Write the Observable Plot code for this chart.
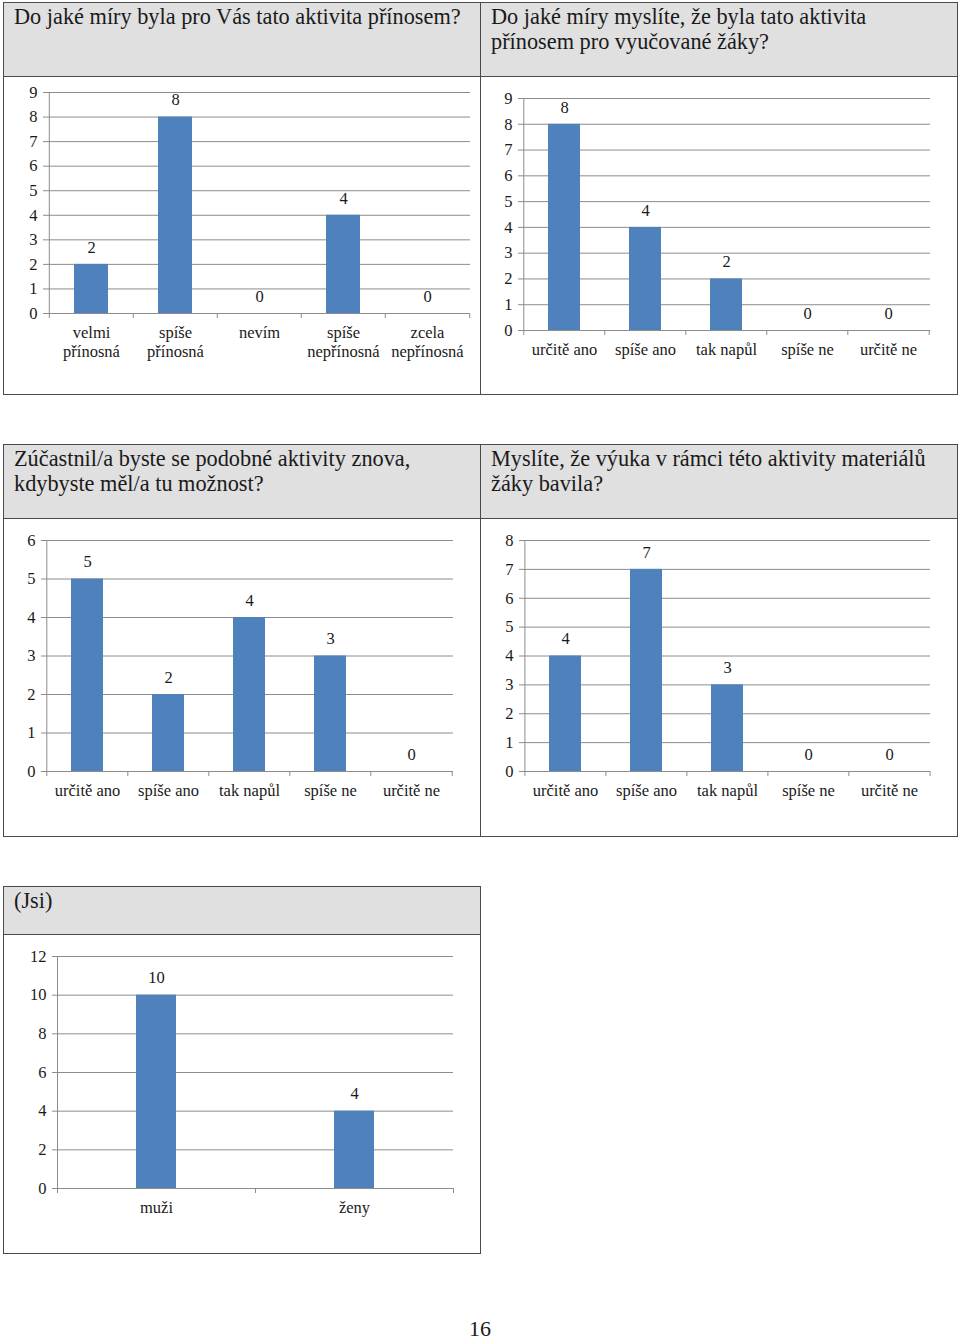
<!DOCTYPE html>
<html>
<head>
<meta charset="utf-8">
<script src="https://cdn.jsdelivr.net/npm/d3@7"></script>
<script src="https://cdn.jsdelivr.net/npm/@observablehq/plot@0.6"></script>
<style>
  html, body { margin: 0; padding: 0; background: #fff; }
  #page { position: relative; width: 960px; height: 1340px; overflow: hidden; font-family: "Liberation Serif", "DejaVu Serif", serif; color: #1a1a1a; }
  .cell { position: absolute; box-sizing: border-box; border: 1.5px solid #4a4a4a; }
  .head { background: #e0e0e0; font-size: 22.3px; line-height: 24.5px; padding: 2px 10px 0 10px; white-space: pre-line; }
  .chart { position: absolute; }
  #pagenum { position: absolute; left: 0; width: 960px; top: 1319px; height: 20px; line-height: 20px; text-align: center; font-size: 22px; }
</style>
</head>
<body>
<div id="page"></div>
<script>
// ---------- data ----------
const q1Title = "Do jaké míry byla pro Vás tato aktivita přínosem?";
const q1Categories = ["velmi\npřínosná", "spíše\npřínosná", "nevím", "spíše\nnepřínosná", "zcela\nnepřínosná"];
const q1Values = [2, 8, 0, 4, 0];
const q1Ticks = [0, 1, 2, 3, 4, 5, 6, 7, 8, 9];

const q2Title = "Do jaké míry myslíte, že byla tato aktivita\npřínosem pro vyučované žáky?";
const q2Categories = ["určitě ano", "spíše ano", "tak napůl", "spíše ne", "určitě ne"];
const q2Values = [8, 4, 2, 0, 0];
const q2Ticks = [0, 1, 2, 3, 4, 5, 6, 7, 8, 9];

const q3Title = "Zúčastnil/a byste se podobné aktivity znova,\nkdybyste měl/a tu možnost?";
const q3Categories = ["určitě ano", "spíše ano", "tak napůl", "spíše ne", "určitě ne"];
const q3Values = [5, 2, 4, 3, 0];
const q3Ticks = [0, 1, 2, 3, 4, 5, 6];

const q4Title = "Myslíte, že výuka v rámci této aktivity materiálů\nžáky bavila?";
const q4Categories = ["určitě ano", "spíše ano", "tak napůl", "spíše ne", "určitě ne"];
const q4Values = [4, 7, 3, 0, 0];
const q4Ticks = [0, 1, 2, 3, 4, 5, 6, 7, 8];

const q5Title = "(Jsi)";
const q5Categories = ["muži", "ženy"];
const q5Values = [10, 4];
const q5Ticks = [0, 2, 4, 6, 8, 10, 12];

const pageNumber = "16";

// ---------- layout ----------
const page = document.getElementById("page");
const FONT = '"Liberation Serif", "DejaVu Serif", serif';
const BAR = "#4f81bd";
const GRID = "#8c8c8c";
const INK = "#1a1a1a";

function box(x, y, w, h, cls, text) {
  const d = document.createElement("div");
  d.className = cls;
  Object.assign(d.style, {left: x + "px", top: y + "px", width: w + "px", height: h + "px"});
  if (text) d.textContent = text;
  page.appendChild(d);
  return d;
}

function chart(cats, vals, ticks, pos) {
  const data = cats.map((c, i) => ({cat: c, value: vals[i]}));
  const ymax = ticks[ticks.length - 1];
  const step = (pos.w - pos.ml - pos.mr) / cats.length;
  const pi = pos.pad;
  const plot = Plot.plot({
    width: pos.w, height: pos.h,
    marginLeft: pos.ml, marginRight: pos.mr, marginTop: pos.mt, marginBottom: pos.mb,
    style: {fontFamily: FONT, fontSize: "16.5px", color: INK, background: "transparent", overflow: "visible"},
    x: {domain: cats, paddingInner: pi, paddingOuter: pi / 2, label: null},
    y: {domain: [0, ymax], label: null},
    marks: [
      Plot.ruleY(ticks, {stroke: GRID, strokeWidth: 1}),
      Plot.ruleX([cats[0]], {x: d => d, y1: 0, y2: ymax, dx: -step / 2, stroke: GRID}),
      Plot.ruleX(cats, {x: d => d, y1: 0, y2: 0, dx: -step / 2, insetBottom: -5, stroke: GRID}),
      Plot.ruleX([cats[cats.length - 1]], {x: d => d, y1: 0, y2: 0, dx: step / 2, insetBottom: -5, stroke: GRID}),
      Plot.barY(data, {x: "cat", y: "value", fill: BAR}),
      Plot.text(data, {x: "cat", y: "value", text: d => String(d.value), dy: -17, fill: INK}),
      Plot.axisY({ticks: ticks, tickSize: 5, tickPadding: 6, stroke: GRID, fill: INK, label: null, tickFormat: d => String(d)}),
      Plot.axisX({tickSize: 0, tickPadding: 12, fill: INK, label: null, lineHeight: 1.1})
    ]
  });
  const wrap = document.createElement("div");
  wrap.className = "chart";
  Object.assign(wrap.style, {left: pos.x + "px", top: pos.y + "px"});
  wrap.appendChild(plot);
  page.appendChild(wrap);
}

// row 1
box(3, 2, 478, 75, "cell head", q1Title);
box(480, 2, 478, 75, "cell head", q2Title);
box(3, 76, 478, 319, "cell");
box(480, 76, 478, 319, "cell");
// row 2
box(3, 444, 478, 75, "cell head", q3Title);
box(480, 444, 478, 75, "cell head", q4Title);
box(3, 518, 478, 319, "cell");
box(480, 518, 478, 319, "cell");
// row 3
box(3, 886, 478, 49, "cell head", q5Title);
box(3, 934, 478, 320, "cell");

chart(q1Categories, q1Values, q1Ticks, {x: 3, y: 76, w: 477, h: 318, ml: 45, mr: 10, mt: 16, mb: 81, pad: 0.6});
chart(q2Categories, q2Values, q2Ticks, {x: 480, y: 76, w: 477, h: 318, ml: 43, mr: 27, mt: 22, mb: 64, pad: 0.6});
chart(q3Categories, q3Values, q3Ticks, {x: 3, y: 518, w: 477, h: 318, ml: 43, mr: 27, mt: 22, mb: 65, pad: 0.6});
chart(q4Categories, q4Values, q4Ticks, {x: 480, y: 518, w: 477, h: 318, ml: 44, mr: 27, mt: 22, mb: 65, pad: 0.6});
chart(q5Categories, q5Values, q5Ticks, {x: 3, y: 934, w: 477, h: 319, ml: 54, mr: 27, mt: 22, mb: 65, pad: 0.8});

const pn = document.createElement("div");
pn.id = "pagenum";
pn.textContent = pageNumber;
page.appendChild(pn);
</script>
</body>
</html>
